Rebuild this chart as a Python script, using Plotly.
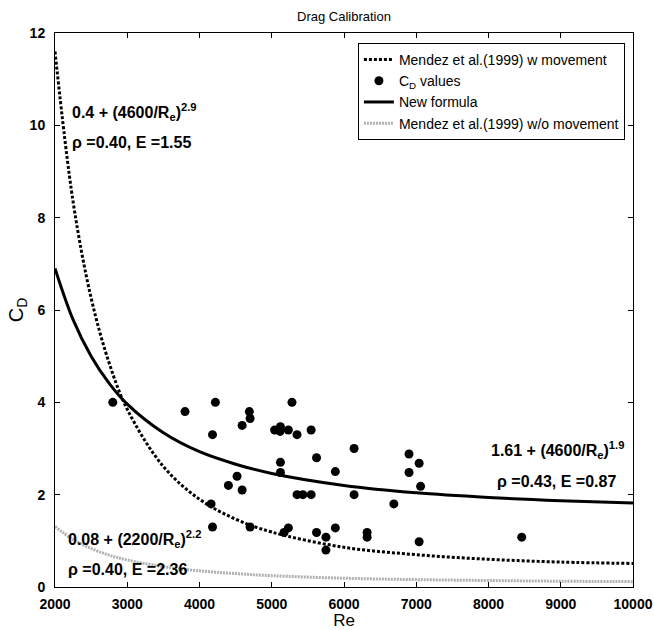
import plotly.graph_objects as go

# ---- data ----
re_pts = [2800, 3800, 4220, 4180, 4400, 4520, 4160, 4180, 4690, 4700, 4590,
          5280, 5040, 5120, 5115, 5230, 5350, 5545, 6140, 5620, 5120, 5120,
          5880, 4590, 5350, 5430, 5545, 6140, 6690, 4700, 5230, 5170, 5620,
          5750, 5880, 6320, 6320, 5750, 6900, 7040, 6900, 7060, 7040, 8460]
cd_pts = [4.0, 3.8, 4.0, 3.3, 2.2, 2.4, 1.8, 1.3, 3.8, 3.65, 3.5,
          4.0, 3.4, 3.47, 3.37, 3.4, 3.3, 3.4, 3.0, 2.8, 2.7, 2.48,
          2.5, 2.1, 2.0, 2.0, 2.0, 2.0, 1.8, 1.3, 1.28, 1.18, 1.18,
          1.08, 1.28, 1.18, 1.08, 0.8, 2.88, 2.68, 2.48, 2.18, 0.98, 1.08]

re_curve = [2000, 2250, 2500, 2750, 3000, 3500, 4000, 4500, 5000, 6000, 7000, 8000, 9000, 10000]
cd_mendez_w = [11.6, 8.35, 6.26, 4.85, 3.85, 2.61, 1.90, 1.47, 1.19, 0.86, 0.70, 0.60, 0.54, 0.51]
cd_new = [6.90, 5.79, 5.00, 4.41, 3.96, 3.34, 2.93, 2.66, 2.46, 2.20, 2.04, 1.94, 1.87, 1.82]
cd_mendez_wo = [1.31, 1.03, 0.835, 0.69, 0.585, 0.44, 0.35, 0.29, 0.245, 0.19, 0.16, 0.14, 0.125, 0.116]

x_ticks = [2000, 3000, 4000, 5000, 6000, 7000, 8000, 9000, 10000]
x_tick_labels = ["2000", "3000", "4000", "5000", "6000", "7000", "8000", "9000", "10000"]
y_ticks = [0, 2, 4, 6, 8, 10, 12]
y_tick_labels = ["0", "2", "4", "6", "8", "10", "12"]

FONT = "Liberation Sans, Arial, sans-serif"

fig = go.Figure()
fig.add_trace(go.Scatter(x=re_curve, y=cd_mendez_w, mode="lines", line_shape="spline",
                         name="Mendez et al.(1999) w movement",
                         line=dict(color="black", width=3, dash="3px,2px")))
fig.add_trace(go.Scatter(x=re_pts, y=cd_pts, mode="markers", name="C<sub>D</sub> values",
                         marker=dict(color="black", size=9)))
fig.add_trace(go.Scatter(x=re_curve, y=cd_new, mode="lines", line_shape="spline",
                         name="New formula", line=dict(color="black", width=3)))
fig.add_trace(go.Scatter(x=re_curve, y=cd_mendez_wo, mode="lines", line_shape="spline",
                         name="Mendez et al.(1999) w/o movement",
                         line=dict(color="#b0b0b0", width=3, dash="2px,1px")))

ann = [
    (2206, 10.28, "0.4 + (4600/R<sub>e</sub>)<sup>2.9</sup>"),
    (2206, 9.63, "ρ =0.40, E =1.55"),
    (8010, 2.96, "1.61 + (4600/R<sub>e</sub>)<sup>1.9</sup>"),
    (8089, 2.28, "ρ =0.43, E =0.87"),
    (2151, 1.05, "0.08 + (2200/R<sub>e</sub>)<sup>2.2</sup>"),
    (2151, 0.37, "ρ =0.40, E =2.36"),
]
for x, y, t in ann:
    fig.add_annotation(x=x, y=y, text="<b>" + t + "</b>", showarrow=False,
                       xanchor="left", yanchor="middle",
                       font=dict(family=FONT, size=16, color="black"))

axis_common = dict(showline=True, linecolor="black", linewidth=1, mirror="ticks",
                   ticks="inside", ticklen=5, tickcolor="black", showgrid=False,
                   zeroline=False, automargin=False,
                   tickfont=dict(family=FONT, size=14, color="black", weight="bold"))

fig.update_layout(
    width=654, height=630,
    margin=dict(l=55, r=21, t=33, b=43),
    paper_bgcolor="white", plot_bgcolor="white",
    font=dict(family=FONT, color="black"),
    title=dict(text="Drag Calibration", x=0.526, xanchor="center", y=1 - 16 / 630,
               yanchor="middle", font=dict(family=FONT, size=13, color="black")),
    xaxis=dict(range=[2000, 10000], tickmode="array", tickvals=x_ticks,
               ticktext=x_tick_labels, ticklabelstandoff=4,
               title=dict(text="Re", font=dict(family=FONT, size=17), standoff=4),
               **axis_common),
    yaxis=dict(range=[0, 12], tickmode="array", tickvals=y_ticks,
               ticktext=y_tick_labels, ticklabelstandoff=6,
               title=dict(text="C<sub>D</sub>", font=dict(family=FONT, size=20), standoff=0),
               **axis_common),
    legend=dict(x=0.986, y=0.982, xanchor="right", yanchor="top",
                bgcolor="white", bordercolor="black", borderwidth=1,
                font=dict(family=FONT, size=14, color="black"),
                tracegroupgap=0),
    showlegend=True,
)

fig.write_html("out.html")
